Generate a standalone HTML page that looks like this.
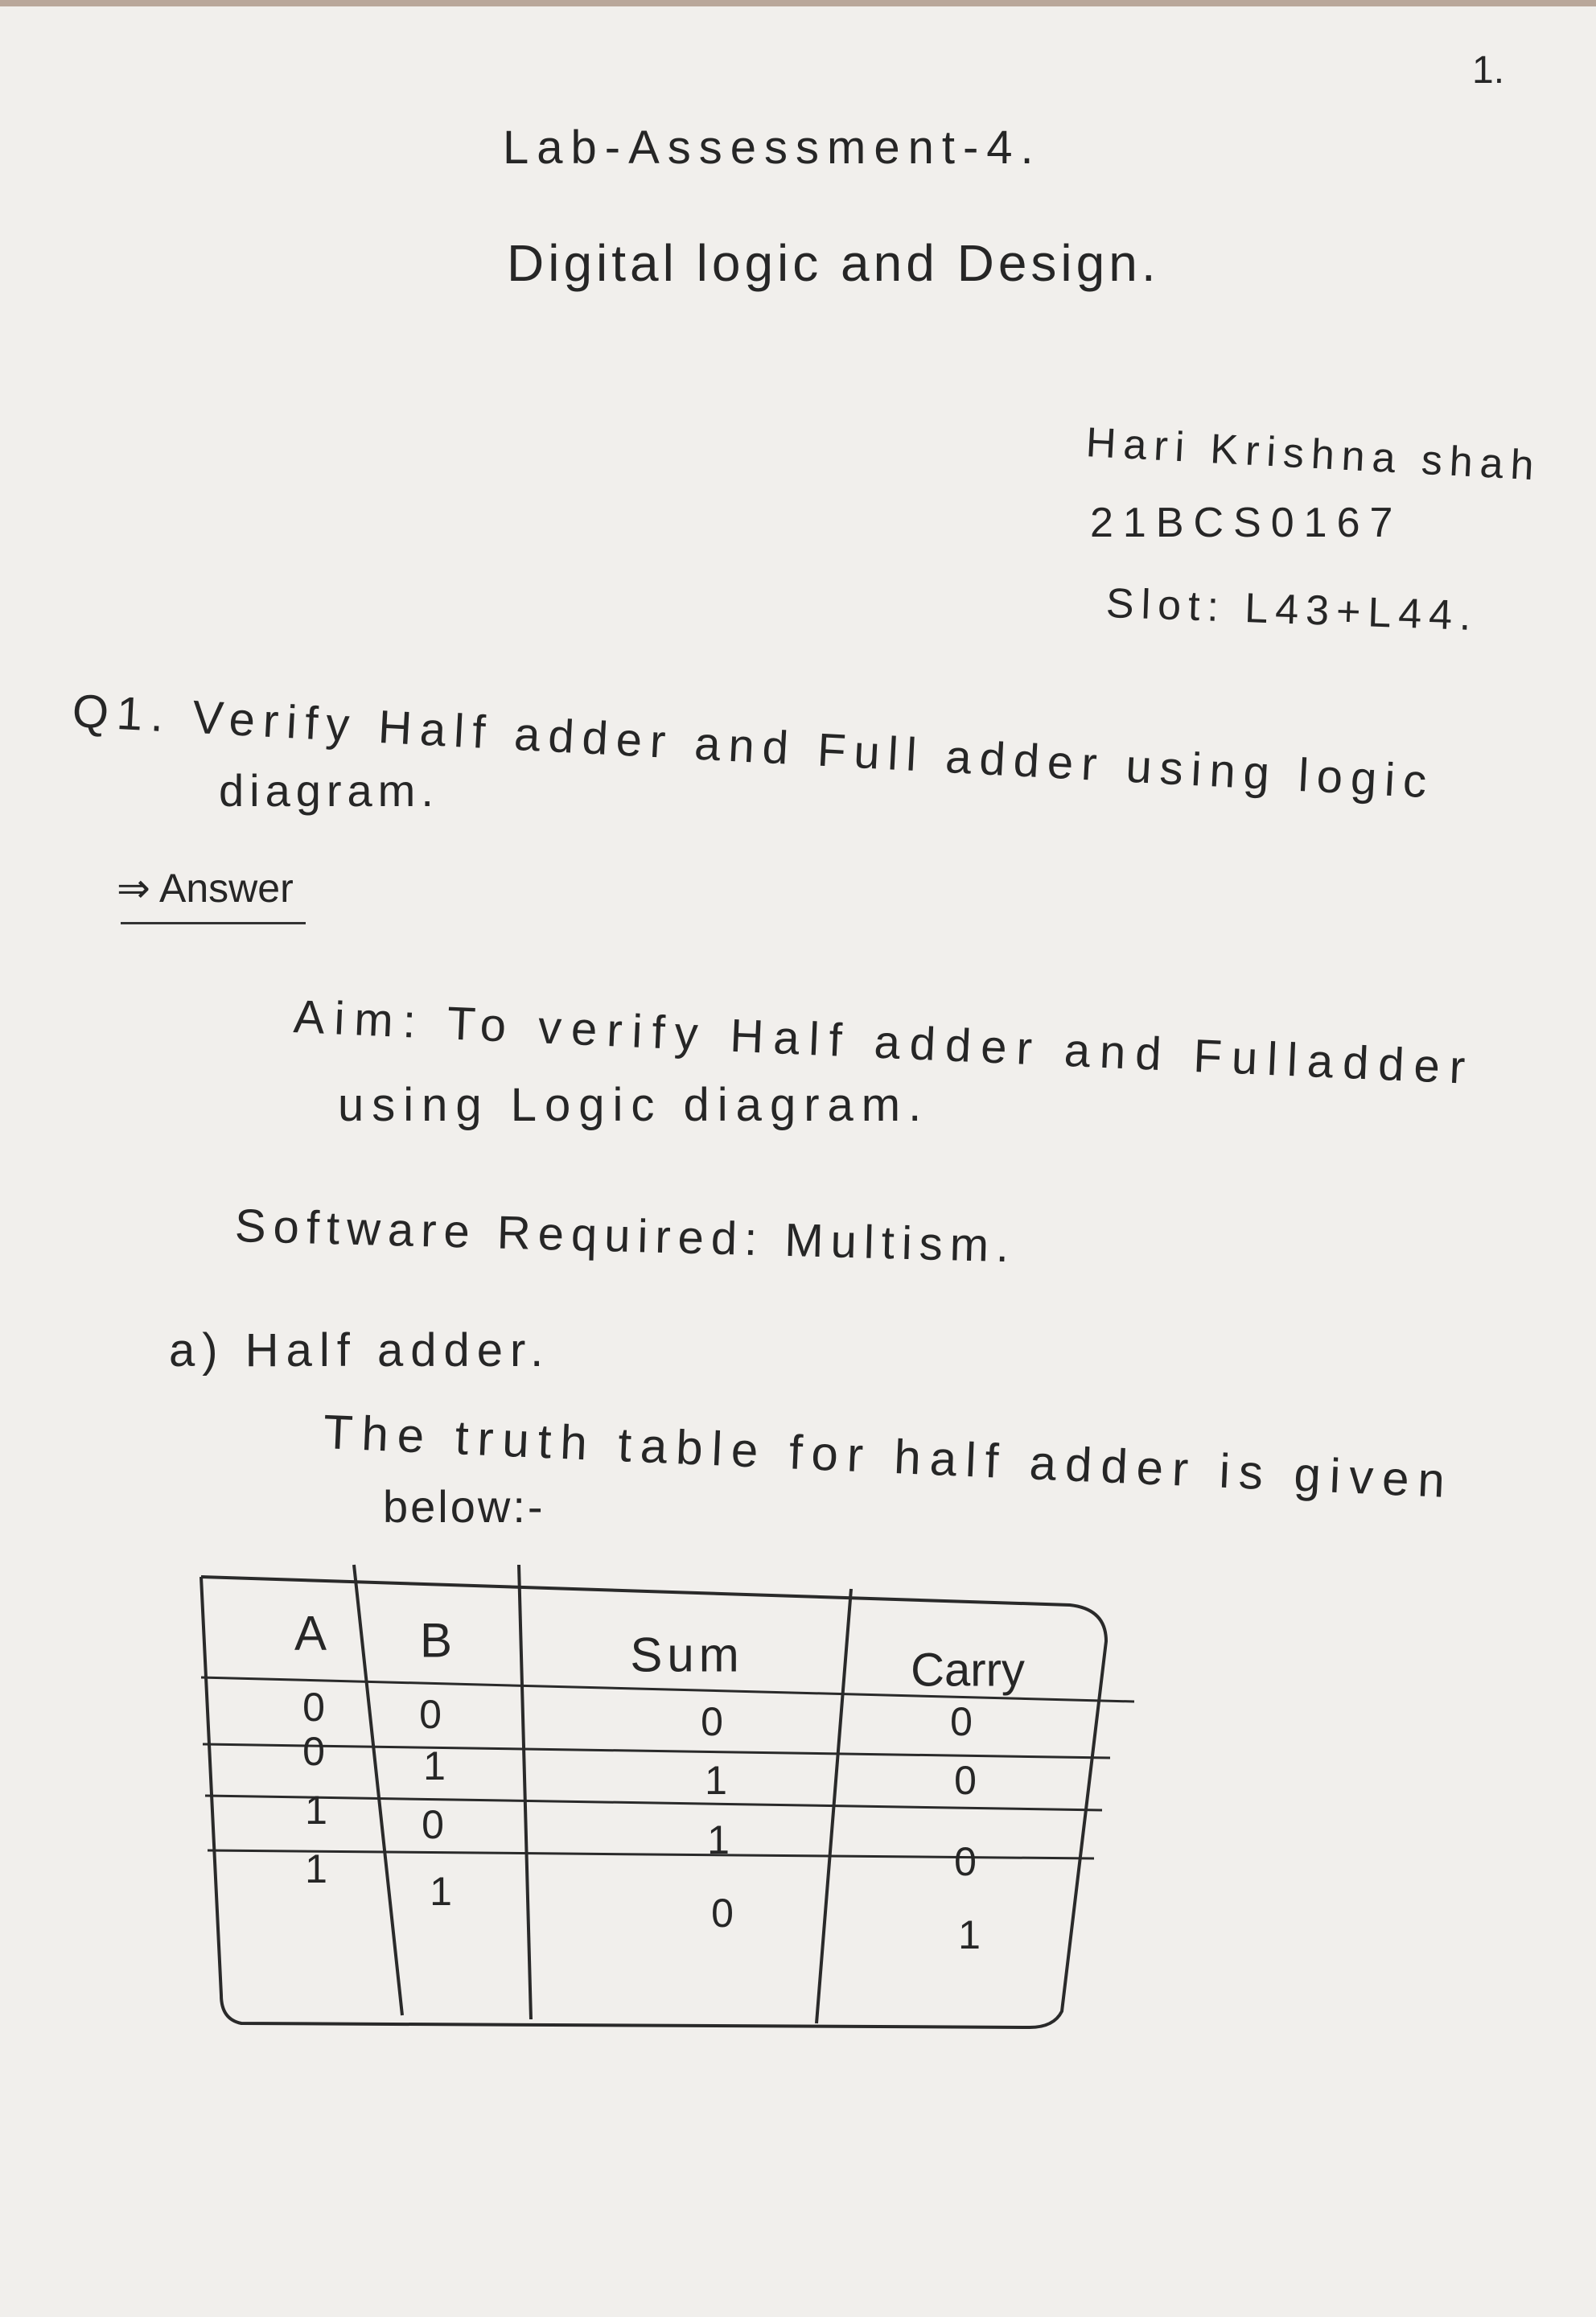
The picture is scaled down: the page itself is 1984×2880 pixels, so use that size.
<!DOCTYPE html>
<html><head><meta charset="utf-8">
<style>
html,body{margin:0;padding:0}
body{width:1984px;height:2880px;background:#f1efec;position:relative;overflow:hidden;font-family:"Liberation Sans",sans-serif;color:#262626}
.t{position:absolute;white-space:nowrap;font-size:56px;transform-origin:left center}
.c{position:absolute;font-size:50px;transform:translate(-50%,-50%)}
</style></head><body>
<div style="position:absolute;left:0;top:0;width:1984px;height:8px;background:#b9a79a"></div>
<div class="t" style="left:1830px;top:60px;font-size:48px">1.</div>
<div class="t" style="left:625px;top:150px;font-size:58px;letter-spacing:10px">Lab-Assessment-4.</div>
<div class="t" style="left:630px;top:290px;font-size:64px;letter-spacing:5px">Digital logic and Design.</div>
<div class="t" style="left:1350px;top:520px;font-size:52px;transform:rotate(3deg);letter-spacing:9px">Hari Krishna shah</div>
<div class="t" style="left:1355px;top:620px;font-size:52px;letter-spacing:12px">21BCS0167</div>
<div class="t" style="left:1375px;top:720px;font-size:52px;transform:rotate(2deg);letter-spacing:9px">Slot: L43+L44.</div>
<div class="t" style="left:90px;top:850px;font-size:58px;transform:rotate(3deg);letter-spacing:10px">Q1. Verify Half adder and Full adder using logic</div>
<div class="t" style="left:272px;top:950px;font-size:56px;letter-spacing:7px">diagram.</div>
<div class="t" style="left:145px;top:1075px;font-size:50px">⇒ Answer</div>
<div style="position:absolute;left:150px;top:1146px;width:230px;height:3px;background:#333"></div>
<div class="t" style="left:365px;top:1230px;font-size:58px;transform:rotate(2.5deg);letter-spacing:12px">Aim: To verify Half adder and Fulladder</div>
<div class="t" style="left:420px;top:1340px;font-size:58px;letter-spacing:10px">using Logic diagram.</div>
<div class="t" style="left:292px;top:1490px;font-size:58px;transform:rotate(1.5deg);letter-spacing:9px">Software Required: Multism.</div>
<div class="t" style="left:210px;top:1645px;font-size:58px;letter-spacing:9px">a) Half adder.</div>
<div class="t" style="left:402px;top:1745px;font-size:60px;transform:rotate(2.5deg);letter-spacing:11px">The truth table for half adder is given</div>
<div class="t" style="left:476px;top:1840px;font-size:56px;letter-spacing:3px">below:-</div>

<svg width="1984" height="2880" style="position:absolute;left:0;top:0">
<g stroke="#2a2a2a" stroke-width="4" fill="none">
<path d="M250 1960 L1330 1995 Q1375 2000 1375 2040 L1320 2500 Q1310 2520 1280 2520 L300 2515 Q275 2510 275 2480 L250 1960"/>
<line x1="440" y1="1945" x2="500" y2="2505"/>
<line x1="645" y1="1945" x2="660" y2="2510"/>
<line x1="1058" y1="1975" x2="1015" y2="2515"/>
<line x1="250" y1="2085" x2="1410" y2="2115" stroke-width="3"/>
<line x1="252" y1="2168" x2="1380" y2="2185" stroke-width="3"/>
<line x1="255" y1="2232" x2="1370" y2="2250" stroke-width="3"/>
<line x1="258" y1="2300" x2="1360" y2="2310" stroke-width="3"/>
</g></svg>

<div class="c" style="left:386px;top:2030px;font-size:60px">A</div>
<div class="c" style="left:542px;top:2039px;font-size:60px">B</div>
<div class="c" style="left:854px;top:2057px;font-size:60px;letter-spacing:6px">Sum</div>
<div class="c" style="left:1203px;top:2076px;font-size:58px">Carry</div>

<div class="c" style="left:390px;top:2122px">0</div>
<div class="c" style="left:390px;top:2177px">0</div>
<div class="c" style="left:393px;top:2250px">1</div>
<div class="c" style="left:393px;top:2323px">1</div>
<div class="c" style="left:535px;top:2131px">0</div>
<div class="c" style="left:540px;top:2195px">1</div>
<div class="c" style="left:538px;top:2268px">0</div>
<div class="c" style="left:548px;top:2351px">1</div>
<div class="c" style="left:885px;top:2140px">0</div>
<div class="c" style="left:890px;top:2213px">1</div>
<div class="c" style="left:893px;top:2287px">1</div>
<div class="c" style="left:898px;top:2378px">0</div>
<div class="c" style="left:1195px;top:2140px">0</div>
<div class="c" style="left:1200px;top:2213px">0</div>
<div class="c" style="left:1200px;top:2314px">0</div>
<div class="c" style="left:1205px;top:2405px">1</div>
</body></html>
